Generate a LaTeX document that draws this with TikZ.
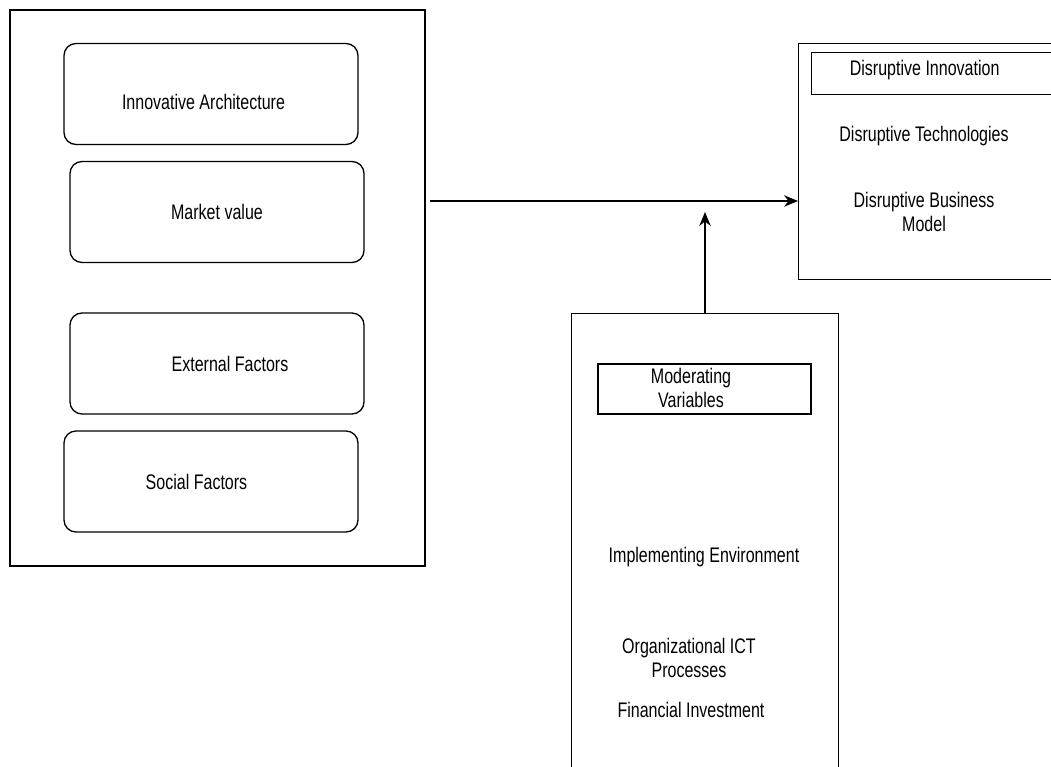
\documentclass[tikz,border=0pt]{standalone}
\usepackage{fontspec}
\setmainfont{Liberation Sans}[FakeStretch=0.76]
\usetikzlibrary{arrows.meta}

\begin{document}
\begin{tikzpicture}[x=0.02cm,y=-0.02cm,
  font=\fontsize{12}{13.6}\selectfont,
  pxbox/.style 2 args = {draw, line width=0.75pt, inner sep=0pt,
     minimum width=#1*0.02cm, minimum height=#2*0.02cm},
  factor/.style = {pxbox={294}{101}, rounded corners=0.24cm},
  flow/.style = {line width=0.75pt, -{Stealth[length=2.8mm,width=2.3mm,inset=0.9mm]}},
  txt/.style = {align=center, inner sep=0pt}]

\useasboundingbox (0,0) rectangle (1051,767);
\fill[white] (0,0) rectangle (1051,767);
\clip (0,0) rectangle (1051,767);

% left panel
\node[pxbox={415}{556}] (drivers) at (217.5,288) {};
\foreach \name/\x/\y/\dx/\dy/\lbl in {arch/211/94/-7.5/8/Innovative Architecture,
      mkt/217/212/0/0/Market value,
      ext/217/363.5/13/0.5/External Factors,
      soc/211/481.5/-14.5/0.5/Social Factors} {
  \node[factor, label={[xshift=\dx*0.02cm, yshift=-\dy*0.02cm]center:\lbl}] (\name) at (\x,\y) {};
}

% right panel
\node[pxbox={300}{236}, anchor=north west] (outcome) at (798,43) {};
\node[pxbox={300}{42}, anchor=north west,
      label={[xshift=-37*0.02cm, yshift=4*0.02cm]center:Disruptive Innovation}] (innov) at (811,52) {};
\node[txt] (tech) at (924,136) {Disruptive Technologies};
\node[txt] (bmodel) at (924,212) {Disruptive Business\\Model};

% moderating panel
\node[pxbox={267}{500}, anchor=north west] (moder) at (571,313) {};
\node[pxbox={213}{50}, label={[xshift=-13.5*0.02cm, yshift=1*0.02cm, align=center]center:Moderating\\Variables}] (modvar) at (704.5,389) {};
\node[txt] (impl) at (704,557) {Implementing Environment};
\node[txt] (orgict) at (689,658) {Organizational ICT\\Processes};
\node[txt] (fin) at (691,710) {Financial Investment};

% connectors
\coordinate (drvout) at (430,201);
\coordinate (modtip) at (705,212);
\draw[flow] (drvout) -- (drvout -| outcome.west);
\draw[flow] (moder.north -| modtip) -- (modtip);

\end{tikzpicture}
\end{document}
